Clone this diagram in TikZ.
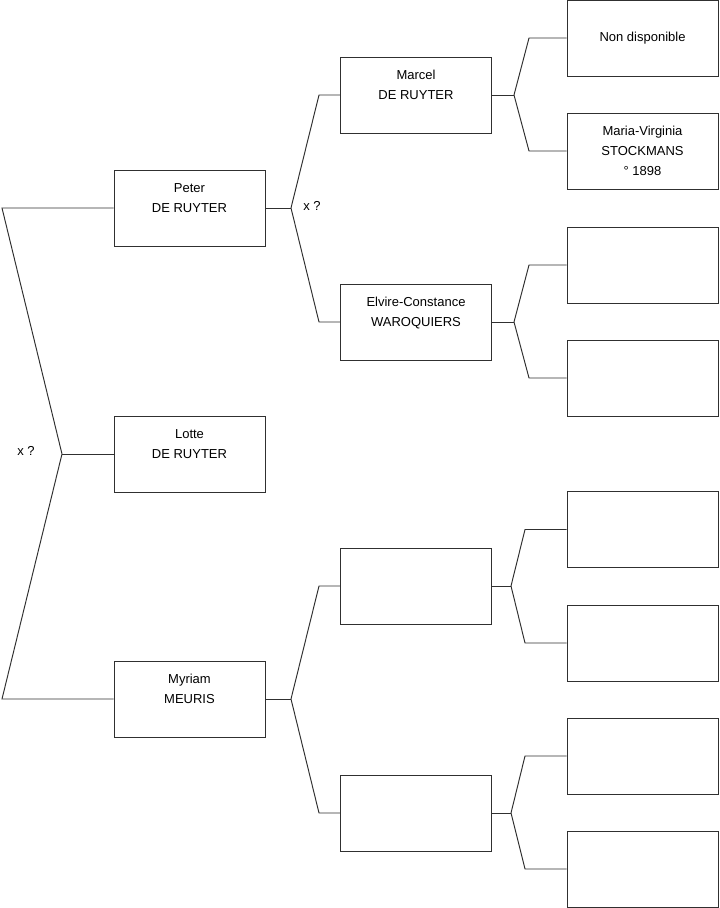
\documentclass[tikz,border=0pt]{standalone}
\usepackage{fontspec}
\setmainfont{Liberation Sans}
\definecolor{boxline}{HTML}{303030}

\begin{document}
\begin{tikzpicture}[x=0.02cm,y=-0.02cm,font=\fontsize{7.4}{11.3}\selectfont,
  box/.style={draw=boxline,line width=.55pt,minimum width=3.02cm,minimum height=1.52cm,inner sep=0pt,align=center},
  link/.style={draw=boxline,line width=.55pt}]
\useasboundingbox (0,0) rectangle (719,908);
% generation 1
\node[box] (pe) at (189.5,208) {Peter\\DE RUYTER\\\mbox{}};
\node[box] (lo) at (189.5,454) {Lotte\\DE RUYTER\\\mbox{}};
\node[box] (my) at (189.5,699) {Myriam\\MEURIS\\\mbox{}};
% generation 2
\node[box] (ma) at (416,95) {Marcel\\DE RUYTER\\\mbox{}};
\node[box] (el) at (416,322) {Elvire-Constance\\WAROQUIERS\\\mbox{}};
\node[box] (b3) at (416,586) {};
\node[box] (b4) at (416,813) {};
% generation 3
\node[box] (nd) at (642.5,38) {Non disponible};
\node[box] (mv) at (642.5,151) {Maria-Virginia\\STOCKMANS\\° 1898};
\foreach \n/\y in {c3/265,c4/378,c5/529.5,c6/643,c7/756,c8/869}
  \node[box] (\n) at (642.5,\y) {};
% forks
\coordinate (r1) at (2,208);
\coordinate (f0) at (62,454);
\coordinate (r2) at (2,699);
\node (x0) at (26,451) {x ?};
\draw[link] (pe.west) -- (r1) -- (f0) -- (r2) -- (my.west);
\draw[link] (f0) -- (lo.west);
\coordinate (f1) at (291,208);
\node (x1) at (312,206) {x ?};
\draw[link] (pe.east) -- (f1);
\draw[link] (ma.west) -- (319,95) -- (f1) -- (319,322) -- (el.west);
\coordinate (f2) at (291,699);
\draw[link] (my.east) -- (f2);
\draw[link] (b3.west) -- (319,586) -- (f2) -- (319,813) -- (b4.west);
% generation 3 forks
\foreach \p/\a/\b/\fx/\bx in {ma/nd/mv/514/529,el/c3/c4/514/529,b3/c5/c6/511/525,b4/c7/c8/511/525}{
  \draw[link] (\p.east) -- (\fx,0 |- \p.east) coordinate (g);
  \draw[link] (\a.west) -- (\bx,0 |- \a.west) -- (g) -- (\bx,0 |- \b.west) -- (\b.west);
}
\end{tikzpicture}
\end{document}
